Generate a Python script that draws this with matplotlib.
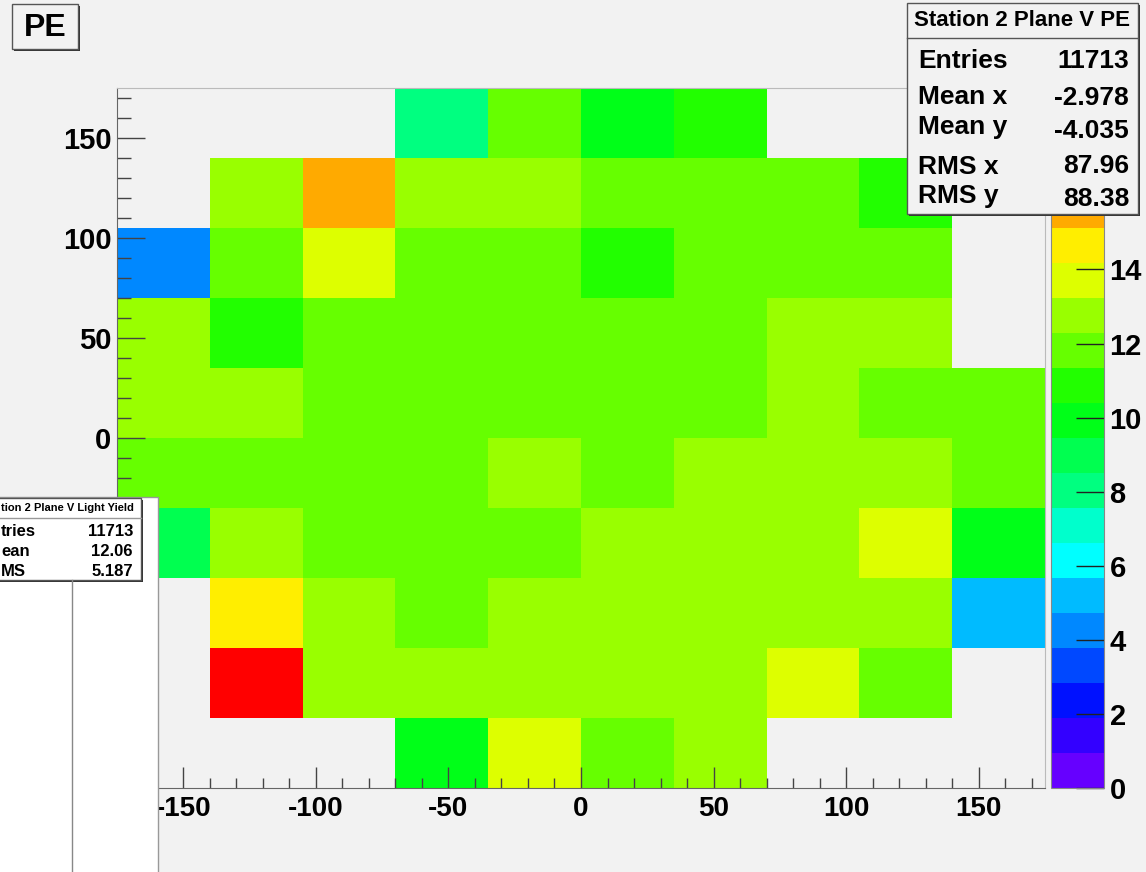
import numpy as np
import matplotlib
matplotlib.use('Agg')
import matplotlib.pyplot as plt
from matplotlib.colors import ListedColormap, BoundaryNorm
from matplotlib.patches import Rectangle

plt.rcParams['font.family'] = ['Liberation Sans Narrow', 'Liberation Sans', 'DejaVu Sans']
plt.rcParams['font.weight'] = 'bold'
plt.rcParams['axes.unicode_minus'] = False

# bin edges (mm)
x_edges = [-175, -140, -105, -70, -35, 0, 35, 70, 105, 140, 175]
y_edges = [-175, -140, -105, -70, -35, 0, 35, 70, 105, 140, 175]

# PE per bin, rows listed from top (y=140..175) down to bottom (y=-175..-140)
nan = np.nan
pe_rows = [
    [nan, nan, nan, 8.0, 11.8, 9.9, 10.9, nan, nan, nan],
    [nan, 12.8, 15.6, 12.8, 12.8, 11.8, 11.8, 11.8, 10.9, nan],
    [4.25, 11.8, 13.7, 11.8, 11.8, 10.9, 11.8, 11.8, 11.8, nan],
    [12.8, 10.9, 11.8, 11.8, 11.8, 11.8, 11.8, 12.8, 12.8, nan],
    [12.8, 12.8, 11.8, 11.8, 11.8, 11.8, 11.8, 12.8, 11.8, 11.8],
    [11.8, 11.8, 11.8, 11.8, 12.8, 11.8, 12.8, 12.8, 12.8, 11.8],
    [9.0, 12.8, 11.8, 11.8, 11.8, 12.8, 12.8, 12.8, 13.7, 9.9],
    [nan, 14.6, 12.8, 11.8, 12.8, 12.8, 12.8, 12.8, 12.8, 5.2],
    [nan, 18.6, 12.8, 12.8, 12.8, 12.8, 12.8, 13.7, 11.8, nan],
    [nan, nan, nan, 9.9, 13.7, 11.8, 12.8, nan, nan, nan],
]
z_max = 18.9

palette = ['#6600ff', '#3300ff', '#0011ff', '#0048ff', '#0088ff',
           '#00bbff', '#00ffff', '#00ffcc', '#00ff80', '#00ff50',
           '#00ff18', '#22ff00', '#66ff00', '#99ff00', '#ddff00',
           '#ffee00', '#ffaa00', '#ff7700', '#ff4400', '#ff0000']

x_ticks = [-150, -100, -50, 0, 50, 100, 150]
y_ticks = [-150, -100, -50, 0, 50, 100, 150]
y_ticklabels = ['', '', '', '0', '50', '100', '150']   # negatives sit under the other pad
z_ticks = [0, 2, 4, 6, 8, 10, 12, 14, 16, 18]
z_ticklabels = ['0', '2', '4', '6', '8', '10', '12', '14', '', '']  # 16, 18 under the stats box

stat_labels = ['Entries', 'Mean x', 'Mean y', 'RMS x', 'RMS y']
stat_values = ['11713', '-2.978', '-4.035', '87.96', '88.38']
# the light-yield pad is cut at the canvas edge, only these parts show
ly_title = 'tion 2 Plane V Light Yield'
ly_labels = ['tries', 'ean', 'MS']
ly_values = ['11713', '12.06', '5.187']

W, H = 1146, 872
bg = '#f2f2f2'
fig = plt.figure(figsize=(W / 100, H / 100), dpi=100, facecolor=bg)

ax = fig.add_axes([117 / W, (H - 788) / H, 928 / W, 700 / H])
ax.set_facecolor(bg)
z = np.ma.masked_invalid(np.array(pe_rows[::-1]))
cmap = ListedColormap(palette)
norm = BoundaryNorm(np.linspace(0, z_max, len(palette) + 1), len(palette))
mesh = ax.pcolormesh(x_edges, y_edges, z, cmap=cmap, norm=norm)
ax.set_xlim(x_edges[0], x_edges[-1])
ax.set_ylim(y_edges[0], y_edges[-1])
ax.set_xticks(x_ticks)
ax.set_yticks(y_ticks)
ax.set_yticklabels(y_ticklabels)
ax.set_xticks(np.arange(-170, 175, 10), minor=True)
ax.set_yticks(np.arange(-170, 175, 10), minor=True)
ax.tick_params(axis='x', which='major', direction='in', length=15, width=1, color='#444444',
               labelsize=20, pad=6)
ax.tick_params(axis='x', which='minor', direction='in', length=7.5, width=1, color='#444444')
ax.tick_params(axis='y', which='major', direction='in', length=20, width=1, color='#444444',
               labelsize=21, pad=4)
ax.tick_params(axis='y', which='minor', direction='in', length=10, width=1, color='#444444')
for side in ['top', 'right']:
    ax.spines[side].set_color('#bbbbbb')
for side in ['left', 'bottom']:
    ax.spines[side].set_color('#666666')

cax = fig.add_axes([1051 / W, (H - 788) / H, 53 / W, 700 / H])
cb = fig.colorbar(mesh, cax=cax, ticks=z_ticks)
cb.ax.set_yticklabels(z_ticklabels)
cb.outline.set_edgecolor('#888888')
cax.tick_params(direction='in', length=20, width=1, color='#222222', labelsize=21, pad=4)
cax.minorticks_off()

# overlay in pixel coordinates for the ROOT boxes
ov = fig.add_axes([0, 0, 1, 1], zorder=10)
ov.set_xlim(0, W)
ov.set_ylim(H, 0)
ov.axis('off')
ov.patch.set_alpha(0)


def box(x, y, w, h, fc):
    ov.add_patch(Rectangle((x + 2, y + 2), w, h, facecolor='#333333', edgecolor='none'))
    ov.add_patch(Rectangle((x, y), w, h, facecolor=fc, edgecolor='#555555', lw=1))


# title box
box(12, 4, 66, 45, bg)
ov.text(45, 28, 'PE', fontsize=23, ha='center', va='center')

# stats box
box(907, 3, 231, 211, bg)
ov.plot([907, 1138], [38, 38], color='#555555', lw=1)
ov.text(1022, 21, 'Station 2 Plane V PE', fontsize=16, ha='center', va='center')
label_y = [61, 97, 127, 167, 196]
value_y = [61, 98, 131, 166, 199]
for lab, val, yl, yv in zip(stat_labels, stat_values, label_y, value_y):
    ov.text(918, yl, lab, fontsize=19, ha='left', va='center')
    ov.text(1129, yv, val, fontsize=19, ha='right', va='center')

# leftover pad from the light-yield canvas
ov.add_patch(Rectangle((-2, 497), 160, 380, facecolor='white', edgecolor='#999999', lw=1))
ov.plot([72, 72], [580, 872], color='#888888', lw=1)
box(-6, 498, 147, 82, 'white')
ov.plot([-6, 141], [518, 518], color='#999999', lw=1)
ov.text(134, 508, ly_title, fontsize=8, ha='right', va='center')
for i, (lab, val) in enumerate(zip(ly_labels, ly_values)):
    ov.text(1, 531 + 20 * i, lab, fontsize=12, ha='left', va='center')
    ov.text(133, 531 + 20 * i, val, fontsize=12, ha='right', va='center')

fig.savefig('out.png', dpi=100, facecolor=bg)
